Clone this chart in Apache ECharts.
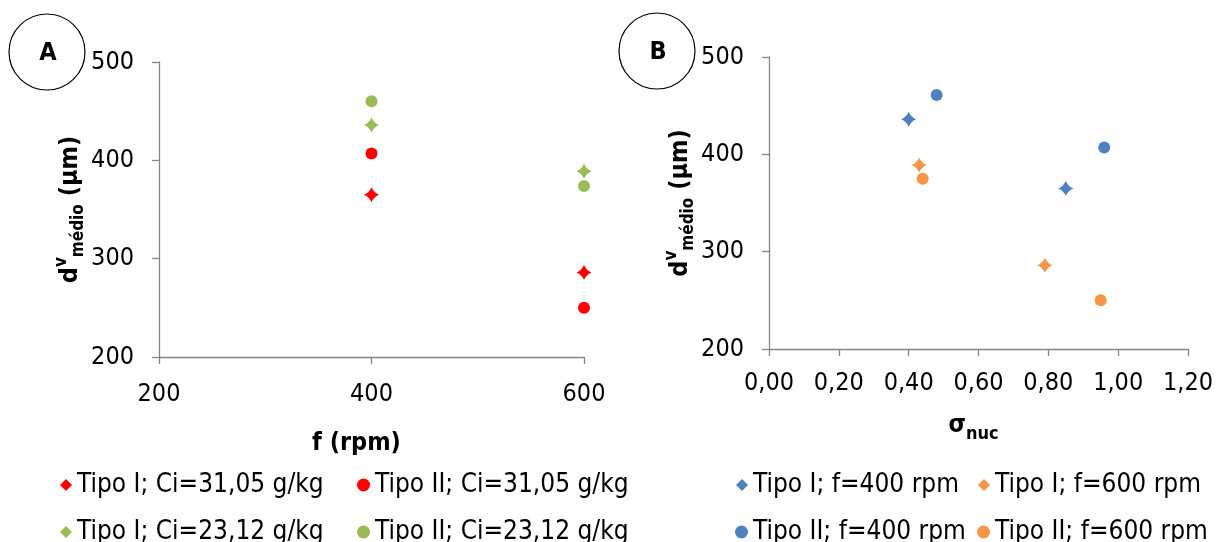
<!DOCTYPE html>
<html>
<head>
<meta charset="utf-8">
<script src="https://cdn.jsdelivr.net/npm/echarts@6/dist/echarts.min.js"></script>
<style>
html,body{margin:0;padding:0;background:#fff;}
#c{width:1218px;height:542px;}
</style>
</head>
<body>
<div id="c"></div>
<script>
// ---- Data ----
const fRpm = [400, 600];
const dTipoI_Ci3105 = [365, 286];
const dTipoII_Ci3105 = [407, 250];
const dTipoI_Ci2312 = [436, 389];
const dTipoII_Ci2312 = [460, 374];

const sigmaTipoI_f400 = [0.40, 0.85];
const dTipoI_f400 = [436, 365];
const sigmaTipoI_f600 = [0.43, 0.79];
const dTipoI_f600 = [389, 286];
const sigmaTipoII_f400 = [0.48, 0.96];
const dTipoII_f400 = [461, 407];
const sigmaTipoII_f600 = [0.44, 0.95];
const dTipoII_f600 = [375, 250];

const namesA = ['Tipo I; Ci=31,05 g/kg', 'Tipo II; Ci=31,05 g/kg', 'Tipo I; Ci=23,12 g/kg', 'Tipo II; Ci=23,12 g/kg'];
const namesB = ['Tipo I; f=400 rpm', 'Tipo I; f=600 rpm', 'Tipo II; f=400 rpm', 'Tipo II; f=600 rpm'];

// ---- Styles ----
const FONT = '"DejaVu Sans Condensed", "DejaVu Sans", sans-serif';
const RED = '#FF0000', GREEN = '#9BBB59', BLUE = '#4F81BD', ORANGE = '#F79646';
const STAR = 'path://M10,0 Q13,7 20,10 Q13,13 10,20 Q7,13 0,10 Q7,7 10,0 Z';
const AXC = '#868686';

function zip(xs, ys) { return xs.map((x, i) => [x, ys[i]]); }

function yAxisCfg(gridIndex, gap) {
  return {
    type: 'value', gridIndex, min: 200, max: 500, interval: 100,
    axisLine: { show: true, lineStyle: { color: AXC, width: 1.3 } },
    axisTick: { show: true, inside: false, length: 7, lineStyle: { color: AXC, width: 1.3 } },
    splitLine: { show: false },
    axisLabel: { color: '#000', fontSize: 25, fontFamily: FONT, margin: 25 },
    name: '{d|d}{v|v}{m|médio}{d| (µm)}',
    nameLocation: 'middle', nameRotate: 90, nameGap: gap,
    nameTextStyle: {
      color: '#000', fontFamily: FONT, fontWeight: 'bold',
      rich: {
        d: { fontSize: 25, fontWeight: 'bold', fontFamily: FONT, color: '#000', verticalAlign: 'middle', lineHeight: 34 },
        v: { fontSize: 17, fontWeight: 'bold', fontFamily: FONT, color: '#000', verticalAlign: 'top', lineHeight: 34, padding: [0, 0, 14, 0] },
        m: { fontSize: 17, fontWeight: 'bold', fontFamily: FONT, color: '#000', verticalAlign: 'bottom', lineHeight: 34, padding: [10, 0, 0, 0] }
      }
    }
  };
}

const legendText = { color: '#000', fontSize: 26, fontFamily: FONT, lineHeight: 28 };

function legendItem(name, icon, textLeft, top) {
  const w = icon === 'circle' ? 13 : 12;
  return {
    left: textLeft - 5 - w, top, orient: 'horizontal', itemWidth: w, itemHeight: w,
    textStyle: legendText, selectedMode: false, padding: 0,
    data: [{ name, icon }]
  };
}

const option = {
  animation: false,
  backgroundColor: '#fff',
  grid: [
    { left: 159, top: 62, width: 425, height: 295 },
    { left: 769, top: 57, width: 419, height: 292 }
  ],
  xAxis: [
    {
      type: 'value', gridIndex: 0, min: 200, max: 600, interval: 200,
      axisLine: { show: true, onZero: false, lineStyle: { color: AXC, width: 1.3 } },
      axisTick: { show: true, length: 7, lineStyle: { color: AXC, width: 1.3 } },
      splitLine: { show: false },
      axisLabel: { color: '#000', fontSize: 25, fontFamily: FONT, margin: 25 },
      name: 'f (rpm)', nameLocation: 'middle', nameGap: 74,
      nameTextStyle: { color: '#000', fontSize: 25, fontWeight: 'bold', fontFamily: FONT, padding: [0, 30, 0, 0] }
    },
    {
      type: 'value', gridIndex: 1, min: 0, max: 1.2, interval: 0.2,
      axisLine: { show: true, onZero: false, lineStyle: { color: AXC, width: 1.3 } },
      axisTick: { show: true, length: 7, lineStyle: { color: AXC, width: 1.3 } },
      splitLine: { show: false },
      axisLabel: { color: '#000', fontSize: 25, fontFamily: FONT, margin: 22,
        formatter: v => v.toFixed(2).replace('.', ',') },
      name: '{s|σ}{n|nuc}', nameLocation: 'middle', nameGap: 64,
      nameTextStyle: {
        padding: [0, 10, 0, 0],
        rich: {
          s: { fontSize: 25, fontWeight: 'bold', fontFamily: FONT, color: '#000', verticalAlign: 'top', lineHeight: 30 },
          n: { fontSize: 18, fontWeight: 'bold', fontFamily: FONT, color: '#000', verticalAlign: 'bottom', lineHeight: 30, padding: [8, 0, 0, 0] }
        }
      }
    }
  ],
  yAxis: [yAxisCfg(0, 58), yAxisCfg(1, 64)],
  legend: [
    legendItem(namesA[0], 'diamond', 77, 471),
    legendItem(namesA[1], 'circle', 375, 471),
    legendItem(namesA[2], 'diamond', 77, 518),
    legendItem(namesA[3], 'circle', 375, 518),
    legendItem(namesB[0], 'diamond', 753, 471),
    legendItem(namesB[1], 'diamond', 995, 471),
    legendItem(namesB[2], 'circle', 753, 518),
    legendItem(namesB[3], 'circle', 995, 518)
  ],
  series: [
    { name: namesA[0], type: 'scatter', xAxisIndex: 0, yAxisIndex: 0, symbol: STAR, symbolSize: 15, itemStyle: { color: RED, opacity: 1 }, data: zip(fRpm, dTipoI_Ci3105) },
    { name: namesA[1], type: 'scatter', xAxisIndex: 0, yAxisIndex: 0, symbol: 'circle', symbolSize: 12, itemStyle: { color: RED, opacity: 1 }, data: zip(fRpm, dTipoII_Ci3105) },
    { name: namesA[2], type: 'scatter', xAxisIndex: 0, yAxisIndex: 0, symbol: STAR, symbolSize: 15, itemStyle: { color: GREEN, opacity: 1 }, data: zip(fRpm, dTipoI_Ci2312) },
    { name: namesA[3], type: 'scatter', xAxisIndex: 0, yAxisIndex: 0, symbol: 'circle', symbolSize: 12, itemStyle: { color: GREEN, opacity: 1 }, data: zip(fRpm, dTipoII_Ci2312) },
    { name: namesB[0], type: 'scatter', xAxisIndex: 1, yAxisIndex: 1, symbol: STAR, symbolSize: 15, itemStyle: { color: BLUE, opacity: 1 }, data: zip(sigmaTipoI_f400, dTipoI_f400) },
    { name: namesB[1], type: 'scatter', xAxisIndex: 1, yAxisIndex: 1, symbol: STAR, symbolSize: 15, itemStyle: { color: ORANGE, opacity: 1 }, data: zip(sigmaTipoI_f600, dTipoI_f600) },
    { name: namesB[2], type: 'scatter', xAxisIndex: 1, yAxisIndex: 1, symbol: 'circle', symbolSize: 12, itemStyle: { color: BLUE, opacity: 1 }, data: zip(sigmaTipoII_f400, dTipoII_f400) },
    { name: namesB[3], type: 'scatter', xAxisIndex: 1, yAxisIndex: 1, symbol: 'circle', symbolSize: 12, itemStyle: { color: ORANGE, opacity: 1 }, data: zip(sigmaTipoII_f600, dTipoII_f600) }
  ],
  graphic: [
    { type: 'circle', shape: { cx: 47, cy: 52, r: 38 }, style: { fill: '#fff', stroke: '#000', lineWidth: 1.2 } },
    { type: 'text', x: 48, y: 53, style: { text: 'A', font: 'bold 25px ' + FONT, fill: '#000', align: 'center', verticalAlign: 'middle' } },
    { type: 'circle', shape: { cx: 657, cy: 51, r: 38 }, style: { fill: '#fff', stroke: '#000', lineWidth: 1.2 } },
    { type: 'text', x: 658, y: 52, style: { text: 'B', font: 'bold 25px ' + FONT, fill: '#000', align: 'center', verticalAlign: 'middle' } }
  ]
};

const chart = echarts.init(document.getElementById('c'), null, { renderer: 'canvas' });
chart.setOption(option);
</script>
</body>
</html>
